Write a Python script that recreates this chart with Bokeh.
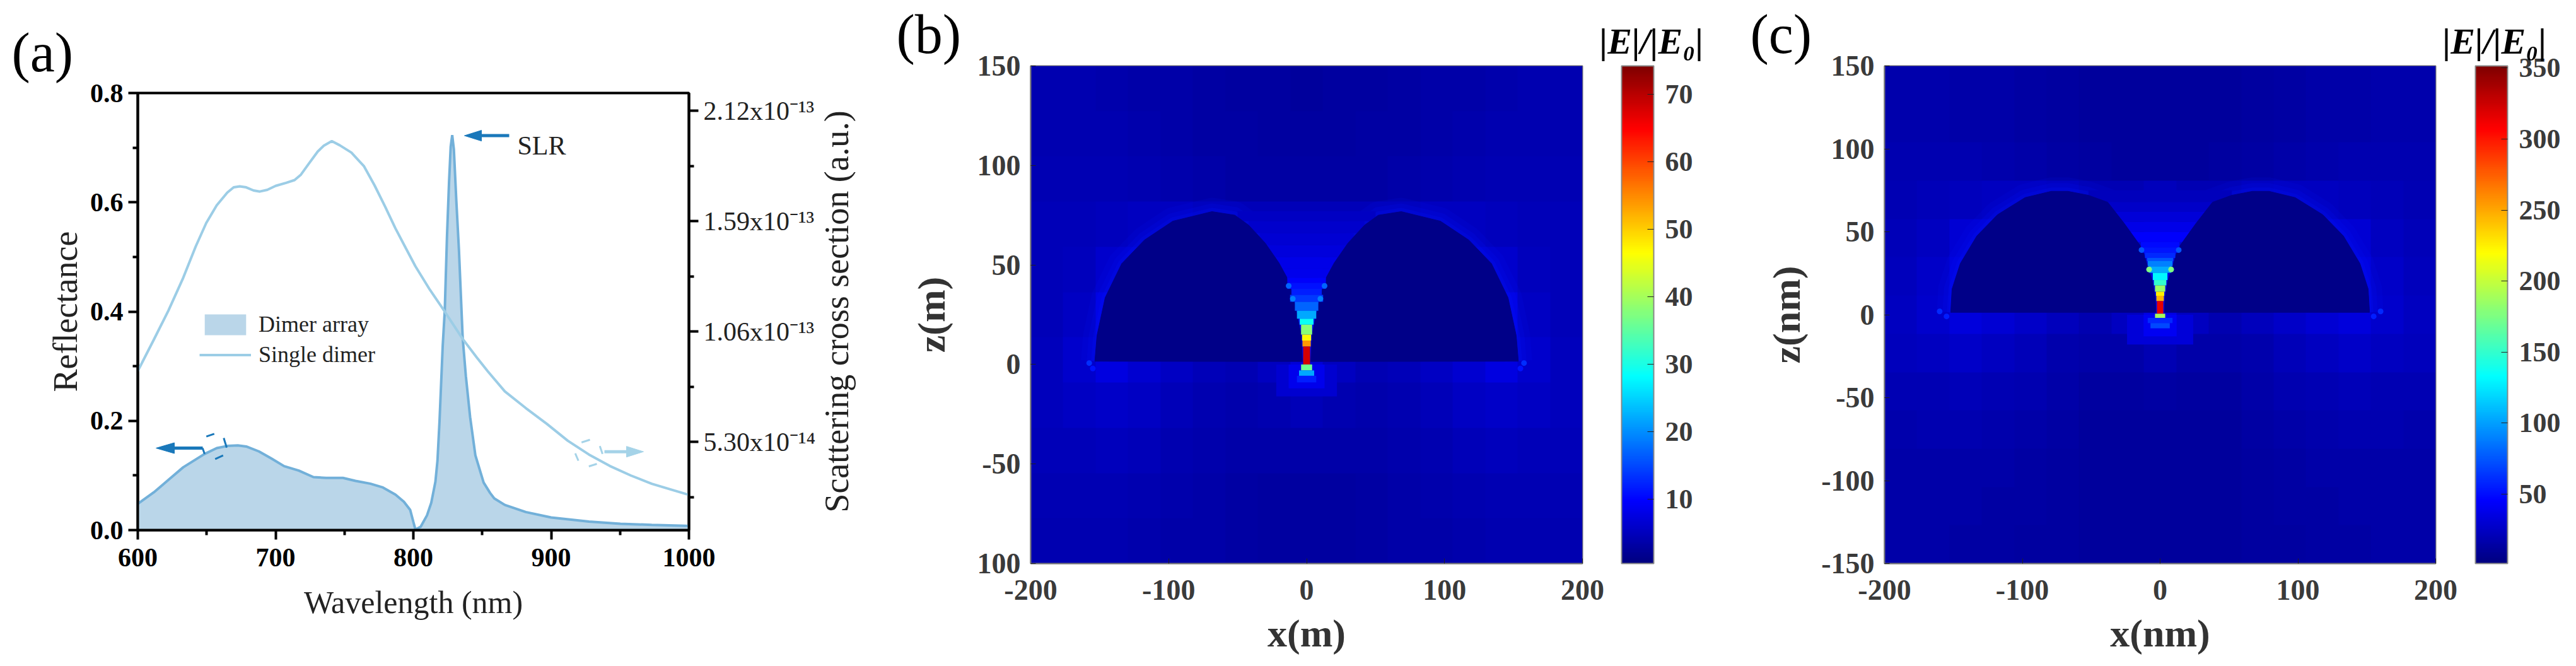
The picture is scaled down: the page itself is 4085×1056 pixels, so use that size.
import numpy as np
from bokeh.embed import file_html
from bokeh.resources import INLINE
from bokeh.plotting import figure
from bokeh.layouts import row, column
from bokeh.core.properties import value
from bokeh.models import (Range1d, LinearAxis, FixedTicker, Label, Legend, LegendItem, Title,
                          LinearColorMapper, ColorBar, ColumnDataSource)

# ---------- panel (a) data ----------
array_wl = [600, 611.6, 622.3, 633, 648.2, 657.3, 665, 672.6, 678.7, 687.9, 697, 706.2, 716.8, 727.5, 736.7,
            748.9, 758, 768.7, 777.9, 787, 793.1, 797.7, 800, 801.5, 805.3, 809.9, 813, 816, 817.5, 819, 821.3,
            822.8, 824.4, 825.9, 827.1, 828.2, 829.4, 831.2, 833.1, 835.8, 838.1, 841.2, 845, 851, 855.7, 858.7,
            866.4, 881.6, 900, 927.4, 950.3, 973, 998, 1000]
array_refl = [.048, .069, .092, .115, .139, .150, .154, .155, .153, .144, .131, .117, .109, .097, .0955,
              .0955, .090, .085, .078, .065, .052, .037, .015, .001, .006, .027, .05, .0885, .127, .2, .337,
              .402, .537, .637, .702, .723, .697, .602, .512, .352, .282, .207, .137, .087, .068, .058,
              .046, .033, .023, .0155, .0115, .0096, .0077, .0075]
single_wl = [600, 611.6, 622.3, 633, 642.1, 649.7, 657.3, 665, 669.6, 674, 678.7, 684, 688.6, 694, 700, 707.7,
             713.8, 718.4, 724.5, 730.6, 735, 740.8, 746.6, 755, 764.2, 771.8, 779.4, 787, 794.6, 801.5, 812,
             822.9, 835.8, 846, 854.1, 866.4, 881.6, 896.9, 912.1, 927.4, 942.6, 957.9, 973.1, 988.4, 1000]
single_sca = [.87, 1.02, 1.161, 1.318, 1.469, 1.581, 1.666, 1.727, 1.752, 1.757, 1.752, 1.737, 1.732, 1.74, 1.759,
              1.774, 1.787, 1.813, 1.869, 1.924, 1.952, 1.974, 1.954, 1.919, 1.853, 1.762, 1.661, 1.555, 1.459,
              1.373, 1.26, 1.154, 1.024, .935, .868, .772, .692, .616, .535, .469, .414, .368, .328, .298, .275]
left_ticks = [0, .2, .4, .6, .8]
right_ticks = [.53, 1.06, 1.59, 2.12]
right_minor = [.265, .795, 1.325, 1.855]
right_labels = ["5.30x10⁻¹⁴", "1.06x10⁻¹³", "1.59x10⁻¹³", "2.12x10⁻¹³"]

# ---------- panels (b), (c) data: coarse field, half columns x=-200..0 step 25, mirrored ----------
field_b_half = [  # z = 150 ... -100, step 25
    [4.0, 4.0, 3.8, 3.6, 3.4, 3.2, 3.0, 2.9, 2.8],
    [4.2, 4.2, 4.0, 3.8, 3.6, 3.3, 3.1, 2.9, 2.9],
    [4.4, 4.4, 4.4, 4.2, 3.9, 3.6, 3.3, 3.2, 3.2],
    [4.6, 4.8, 5.0, 5.2, 5.2, 4.8, 4.6, 4.6, 4.8],
    [4.6, 5.0, 6.2, 6.4, 2.0, 1.5, 1.5, 5.0, 7.0],
    [4.8, 5.4, 7.6, 2.0, 1.5, 1.5, 1.5, 1.5, 8.0],
    [5.0, 6.0, 7.6, 6.4, 5.6, 4.8, 4.4, 5.2, 7.0],
    [5.0, 5.4, 5.8, 5.4, 4.8, 4.2, 3.8, 4.2, 4.6],
    [4.6, 4.8, 5.0, 4.8, 4.2, 3.8, 3.4, 3.4, 3.6],
    [4.4, 4.4, 4.4, 4.2, 3.8, 3.4, 3.2, 3.0, 3.0],
    [4.2, 4.2, 4.0, 3.8, 3.6, 3.4, 3.2, 3.0, 3.0],
]
field_c_half = [  # z = 150 ... -150, step 25
    [17, 17, 16, 15, 14, 13, 12, 11.5, 11],
    [17, 17, 16, 15, 14, 13, 12, 11, 11],
    [18, 18, 18, 17, 15, 14, 13, 12, 12],
    [20, 21, 23, 24, 24, 22, 20, 20, 22],
    [21, 24, 30, 30, 8, 6, 6, 20, 30],
    [22, 26, 34, 8, 6, 6, 6, 6, 30],
    [24, 28, 34, 30, 27, 22, 18, 24, 36],
    [22, 24, 26, 24, 21, 17, 15, 16, 19],
    [19, 20, 21, 20, 18, 15, 13, 13, 14],
    [17, 18, 18, 17, 16, 14, 12, 12, 12],
    [16, 16, 16, 15, 14, 13, 12, 11, 11],
    [15, 15, 15, 14, 14, 13, 12, 11, 11],
    [15, 15, 14, 14, 13, 13, 12, 11, 11],
]
# dome outlines (left dome, mirrored for the right one)
dome_b_x = [-153.5, -152, -146, -134, -117.6, -97, -68.6, -52, -42, -30, -20, -14.5, -10, -7, -4, -3]
dome_b_z = [1.6, 14.4, 33.6, 50.7, 62.5, 72, 76.8, 75, 70, 61, 51, 44, 35, 25, 15, 1.5]
dome_c_x = [-152, -151, -145, -133, -118, -98, -79, -67, -52, -38, -26, -13, -9, -5.5, -3.5, -3]
dome_c_z = [1.4, 15.5, 30.9, 47.5, 60.3, 70.6, 74.4, 74.4, 72, 67.8, 55, 40, 29, 20, 10, 1.4]
# field rows between the domes (z0, z1, half width, value), behind the domes
fan_b_z0 = [43.5, 48, 54, 60, 66, 72]
fan_b_z1 = [48, 54, 60, 66, 72, 77]
fan_b_hw = [17, 22, 28, 34, 42, 50]
fan_b_v = [8.5, 8, 7.4, 6.8, 6.2, 5.6]
fan_c_z0 = [43.8, 50, 56, 62, 68]
fan_c_z1 = [50, 56, 62, 68, 75]
fan_c_hw = [22, 30, 36, 42, 52]
fan_c_v = [44, 38, 32, 27, 23]
# hot-spot rows in the gap and under it
hot_b_z0 = [-16, -12, 41, 38, 35, 31.5, 27, 23, 20, 15, 12, 9, 0, 0, -3, -5.7]
hot_b_z1 = [0, 0, 43.5, 41, 38, 35, 31.5, 27, 23, 20, 15, 12, 9, -3, -5.7, -9]
hot_b_hw = [22, 13, 14, 14, 11, 12, 8.5, 7, 5, 4, 3.3, 3, 2.5, 4, 5.5, 7]
hot_b_v = [6.5, 8.5, 9.5, 11, 12, 14, 17, 22, 29, 38, 47, 54, 68, 36, 22, 12]
hot_c_z0 = [-18, -13, 40.6, 37.4, 34.2, 32.3, 29.2, 25.3, 20.9, 17.7, 13.9, 11.4, 8.2, 0.6, 0.6, -1.9, -5, -1.9]
hot_c_z1 = [0, 0, 43.8, 40.6, 37.4, 34.2, 32.3, 29.2, 25.3, 20.9, 17.7, 13.9, 11.4, 8.2, -1.9, -5, -8.2, -5]
hot_c_hw = [24, 12, 14, 13.5, 11, 9.5, 9, 8, 5.3, 4.5, 3.7, 3, 2.7, 2.3, 3.7, 5, 7, 9]
hot_c_v = [32, 42, 48, 52, 60, 75, 90, 105, 130, 150, 185, 225, 245, 315, 190, 110, 70, 60]
spot_b_x = [-10, 10, -13, 13, -157.6, -155, 157.6, 155]
spot_b_z = [33, 33, 39.5, 39.5, 0.7, -2, 0.7, -2]
spot_b_v = [19, 19, 17, 17, 13, 11, 13, 11]
spot_c_x = [-8, 8, -13.5, 13.5, -160, -155, 160, 155]
spot_c_z = [27.3, 27.3, 39, 39, 2, -1, 2, -1]
spot_c_v = [175, 175, 75, 75, 60, 55, 60, 55]
cb_ticks_b = [10, 20, 30, 40, 50, 60, 70]
cb_ticks_c = [50, 100, 150, 200, 250, 300, 350]

# jet palette from its anchor colours
anchors = [(0, (0, 0, .5)), (.125, (0, 0, 1)), (.375, (0, 1, 1)), (.625, (1, 1, 0)), (.875, (1, 0, 0)), (1, (.5, 0, 0))]
def jet(n=256):
    ts = np.linspace(0, 1, n)
    out = []
    for t in ts:
        c = [np.interp(t, [a[0] for a in anchors], [a[1][i] for a in anchors]) for i in range(3)]
        out.append("#%02x%02x%02x" % tuple(int(round(v * 255)) for v in c))
    return out
JET = jet()
SERIF = "Liberation Serif"
GREY = "#3a3a3a"

def tag(p, text, offset, standoff):
    p.add_layout(Title(text=text, align="left", offset=offset, standoff=standoff, text_font=SERIF,
                       text_font_size="88px", text_font_style="normal", text_color="black"), "above")

# ---------- panel (a) ----------
A_L, A_R, A_T, A_B = 218, 1092, 147, 840
AW = 1296
pa = figure(width=AW, height=1056, output_backend="svg", toolbar_location=None,
            x_range=Range1d(600, 1000), y_range=Range1d(0, .8),
            min_border_left=A_L, min_border_right=AW - A_R, min_border_top=A_T, min_border_bottom=1056 - A_B,
            background_fill_color="white", border_fill_color="white")
pa.grid.visible = False
pa.outline_line_color = "black"
pa.outline_line_width = 4
pa.extra_y_ranges = {"sca": Range1d(.106, 2.205)}

fill = pa.varea(array_wl, y1=0, y2=array_refl, fill_color="#bad6e9")
pa.line(array_wl, array_refl, line_color="#72b0d9", line_width=4)
sline = pa.line(single_wl, single_sca, y_range_name="sca", line_color="#9ccde6", line_width=4)

def dx(px): return 600 + (px - A_L) * 400 / (A_R - A_L)
def dy(py): return (A_B - py) * .8 / (A_B - A_T)
DARK, LIGHT = "#1a78ba", "#a5d3e8"
def arrow(tip, y, base, tail, col):
    pa.segment(dx(base), dy(y), dx(tail), dy(y), line_color=col, line_width=5)
    pa.patch([dx(tip), dx(base), dx(base)], [dy(y), dy(y - 8.5), dy(y + 8.5)], fill_color=col, line_color=col)
arrow(247, 710, 276, 321, DARK)
arrow(736, 214.6, 763, 807, DARK)
arrow(1020, 715.7, 993, 958, LIGHT)
for (x0, y0, x1, y1) in [(326.7, 691.7, 339.3, 687.3), (354.3, 694, 359, 709.3), (340.7, 727.3, 353.3, 721.7), (320.7, 710, 324, 719.3)]:
    pa.segment(dx(x0), dy(y0), dx(x1), dy(y1), line_color=DARK, line_width=3)
for (x0, y0, x1, y1) in [(921.7, 701, 935, 696.7), (950.7, 706.7, 955, 719.3), (933.3, 739, 946, 735), (911.7, 718.3, 916.7, 730)]:
    pa.segment(dx(x0), dy(y0), dx(x1), dy(y1), line_color=LIGHT, line_width=3)

for ax in (pa.xaxis[0], pa.yaxis[0]):
    ax.axis_line_width = 4
    ax.major_tick_line_width = 4
    ax.minor_tick_line_width = 4
    ax.major_tick_out = 15
    ax.minor_tick_out = 8
    ax.major_tick_in = 0
    ax.minor_tick_in = 0
    ax.major_label_text_font = SERIF
    ax.major_label_text_font_style = "bold"
    ax.major_label_text_font_size = "42px"
    ax.major_label_text_color = "black"
    ax.axis_label_text_font = SERIF
    ax.axis_label_text_font_style = "normal"
    ax.axis_label_text_color = "#222222"
pa.xaxis[0].ticker = FixedTicker(ticks=[600, 700, 800, 900, 1000], minor_ticks=[650, 750, 850, 950])
pa.yaxis[0].ticker = FixedTicker(ticks=left_ticks, minor_ticks=[.1, .3, .5, .7])
pa.yaxis[0].major_label_overrides = {0: "0.0", .2: "0.2", .4: "0.4", .6: "0.6", .8: "0.8"}
pa.xaxis[0].axis_label = "Wavelength (nm)"
pa.xaxis[0].axis_label_text_font_size = "50px"
pa.xaxis[0].axis_label_standoff = 26
pa.xaxis[0].major_label_standoff = 14
pa.yaxis[0].axis_label = "Reflectance"
pa.yaxis[0].axis_label_text_font_size = "54px"
pa.yaxis[0].axis_label_standoff = 6
pa.yaxis[0].major_label_standoff = 8

rax = LinearAxis(y_range_name="sca", ticker=FixedTicker(ticks=right_ticks, minor_ticks=right_minor),
                 major_label_overrides=dict(zip(right_ticks, right_labels)),
                 axis_line_width=4, major_tick_line_width=4, minor_tick_line_width=4,
                 major_tick_out=15, minor_tick_out=8, major_tick_in=0, minor_tick_in=0,
                 major_label_text_font=SERIF, major_label_text_font_size="42px", major_label_text_color="#222222",
                 major_label_standoff=8)
pa.add_layout(rax, "right")
pa.add_layout(Label(x=820 - A_L, y=A_B - 230, x_units="screen", y_units="screen", text="SLR", text_font=SERIF,
                    text_font_size="42px", text_color="#222222", text_baseline="alphabetic"))
tag(pa, "(a)", 18 - A_L, 31)

legend = Legend(items=[LegendItem(label="Dimer array", renderers=[fill]), LegendItem(label="Single dimer", renderers=[sline])],
                location=(316 - A_L, A_B - 583), orientation="vertical", border_line_alpha=0, background_fill_alpha=0,
                glyph_width=82, glyph_height=41, spacing=6, padding=0, margin=0, label_standoff=12,
                label_text_font=SERIF, label_text_font_size="36px", label_text_color="#222222", label_height=41)
pa.add_layout(legend, "center")

# strip beside panel (a) with the rotated right-hand axis title
SW = 1380 - AW
ps = figure(width=SW, height=1056, output_backend="svg", toolbar_location=None,
            x_range=Range1d(AW, 1380), y_range=Range1d(1056, 0),
            min_border=0, min_border_left=0, min_border_right=0, min_border_top=0, min_border_bottom=0,
            background_fill_color="white", border_fill_color="white")
ps.grid.visible = False
ps.axis.visible = False
ps.outline_line_color = None
ps.text(x=[1326], y=[493.5], text=["Scattering cross section (a.u.)"], angle=np.pi / 2, text_align="center",
        text_baseline="middle", text_font=value(SERIF), text_font_size="54px", text_color="#222222")

# ---------- panels (b), (c) ----------
def field_panel(width, left, right, fl, fr, zmin, yticks, ylabels, xlab, ylab, half, dome_x, dome_z,
                fan, hot, spots, vmin, vmax, cb_ticks, tag_text, tag_x, title_x, cb_left, tick_size, ylab_off):
    FT, FB = 104, 893
    p = figure(width=width, height=1056, output_backend="svg", toolbar_location=None,
               x_range=Range1d(-200, 200), y_range=Range1d(zmin, 150),
               min_border_left=left, min_border_right=right, min_border_top=FT, min_border_bottom=1056 - FB,
               background_fill_color="white", border_fill_color="white")
    p.grid.visible = False
    p.outline_line_color = "#777777"
    p.outline_line_width = 2
    mapper = LinearColorMapper(palette=JET, low=vmin, high=vmax)
    full = np.array([list(r) + list(r[-2::-1]) for r in half], dtype=float)[::-1]
    p.image(image=[full], x=-200, y=zmin, dw=400, dh=150 - zmin, color_mapper=mapper)
    # soft glow hugging the domes
    for sgn in (-1, 1):
        xs = [sgn * v for v in dome_x]
        for w, a in ((44, .10), (26, .14), (12, .18)):
            p.line(xs, dome_z, line_color="#0018ff", line_width=w, line_alpha=a, line_join="round")
    fz0, fz1, fhw, fv = fan
    src = ColumnDataSource(dict(left=[-h for h in fhw], right=fhw, bottom=fz0, top=fz1, v=fv))
    p.quad(left="left", right="right", bottom="bottom", top="top", source=src,
           fill_color={"field": "v", "transform": mapper}, line_color=None)
    for sgn in (-1, 1):
        p.patch([sgn * v for v in dome_x], dome_z, fill_color="#000088", line_color="#000088", line_width=1)
    hz0, hz1, hhw, hv = hot
    src2 = ColumnDataSource(dict(left=[-h for h in hhw], right=hhw, bottom=hz0, top=hz1, v=hv))
    p.quad(left="left", right="right", bottom="bottom", top="top", source=src2,
           fill_color={"field": "v", "transform": mapper}, line_color=None)
    sx, sz, sv = spots
    p.scatter(x="x", y="y", size=9, source=ColumnDataSource(dict(x=sx, y=sz, v=sv)),
              fill_color={"field": "v", "transform": mapper}, line_color=None)
    xa, ya = p.xaxis[0], p.yaxis[0]
    xa.ticker = FixedTicker(ticks=[-200, -100, 0, 100, 200])
    xa.major_label_overrides = {-200: "-200", -100: "-100", 0: "0", 100: "100", 200: "200"}
    ya.ticker = FixedTicker(ticks=yticks)
    ya.major_label_overrides = dict(zip(yticks, ylabels))
    for ax in (xa, ya):
        ax.axis_line_color = "#777777"
        ax.axis_line_width = 2
        ax.major_tick_in = 8
        ax.major_tick_out = 0
        ax.minor_tick_in = 0
        ax.minor_tick_out = 0
        ax.major_tick_line_color = "#222222"
        ax.major_tick_line_width = 1
        ax.major_label_text_font = SERIF
        ax.major_label_text_font_style = "bold"
        ax.major_label_text_font_size = f"{tick_size}px"
        ax.major_label_text_color = GREY
        ax.axis_label_text_font = SERIF
        ax.axis_label_text_font_style = "bold"
        ax.axis_label_text_font_size = "62px"
        ax.axis_label_text_color = "#333333"
    xa.axis_label = xlab
    ya.axis_label = ylab
    xa.major_label_standoff = 26
    ya.major_label_standoff = 16
    xa.axis_label_standoff = 16
    ya.axis_label_standoff = ylab_off
    cb = ColorBar(color_mapper=mapper, location=(cb_left - fl, 0), width=51, height=FB - FT, margin=0, padding=0,
                  ticker=FixedTicker(ticks=cb_ticks), major_tick_in=10, major_tick_line_color="#222222",
                  major_tick_line_width=1, major_label_text_font=SERIF, major_label_text_font_style="bold",
                  major_label_text_font_size="44px", major_label_text_color=GREY, label_standoff=18,
                  bar_line_color="#888888", bar_line_width=2, background_fill_alpha=0, border_line_alpha=0)
    p.add_layout(cb, "center")
    # a bar-less colour bar that only carries the heading, free of the frame's clip
    head = ColorBar(color_mapper=mapper, orientation="horizontal", location=(title_x - fl, FB - 98), width=170, height=1,
                    margin=0, padding=0, ticker=FixedTicker(ticks=[]), scale_alpha=0, bar_line_alpha=0,
                    background_fill_alpha=0, border_line_alpha=0, major_tick_line_alpha=0, major_label_text_alpha=0,
                    title="|E|/|E₀|", title_standoff=0,
                    title_text_font=SERIF, title_text_font_style="bold italic", title_text_font_size="58px",
                    title_text_color="black")
    p.add_layout(head, "center")
    tag(p, tag_text, tag_x - fl, 3)
    return p

pb = field_panel(1360, 254, 231, 1634, 2509, -100, [-100, -50, 0, 50, 100, 150], ["100", "-50", "0", "50", "100", "150"],
                 "x(m)", "z(m)", field_b_half, dome_b_x, dome_b_z,
                 (fan_b_z0, fan_b_z1, fan_b_hw, fan_b_v), (hot_b_z0, hot_b_z1, hot_b_hw, hot_b_v),
                 (spot_b_x, spot_b_z, spot_b_v), .5, 74.2, cb_ticks_b, "(b)", 1421, 2536, 2571, 46, 36)
pc = field_panel(1345, 248, 223, 2988, 3862, -150, [-150, -100, -50, 0, 50, 100, 150],
                 ["-150", "-100", "-50", "0", "50", "100", "150"],
                 "x(nm)", "z(nm)", field_c_half, dome_c_x, dome_c_z,
                 (fan_c_z0, fan_c_z1, fan_c_hw, fan_c_v), (hot_c_z0, hot_c_z1, hot_c_hw, hot_c_v),
                 (spot_c_x, spot_c_z, spot_c_v), 1.2, 351.5, cb_ticks_c, "(c)", 2775, 3873, 3925, 46, 18)

layout = row(column(pa), column(ps), pb, pc, spacing=0)
open("out.html", "w").write(file_html(layout, INLINE))
